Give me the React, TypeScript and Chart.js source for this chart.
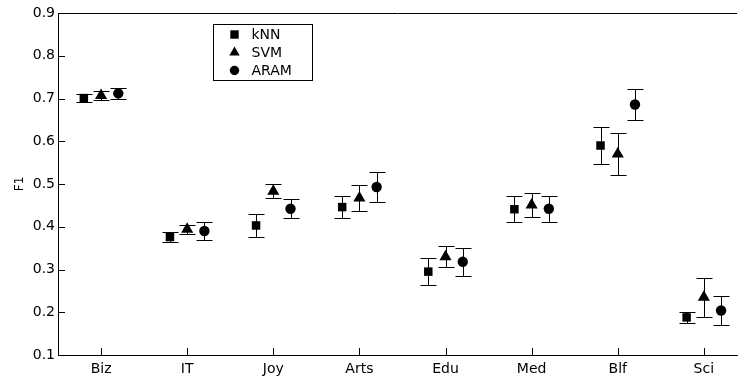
import React, { useEffect, useRef } from "react";
import { Chart, registerables } from "chart.js";

Chart.register(...registerables);

const categories = ["Biz", "IT", "Joy", "Arts", "Edu", "Med", "Blf", "Sci"];
const knnMean = [0.701, 0.376, 0.403, 0.446, 0.295, 0.441, 0.59, 0.188];
const knnErr = [0.009, 0.011, 0.027, 0.026, 0.031, 0.031, 0.043, 0.013];
const svmMean = [0.707, 0.394, 0.483, 0.467, 0.33, 0.451, 0.57, 0.235];
const svmErr = [0.01, 0.011, 0.016, 0.03, 0.024, 0.029, 0.05, 0.045];
const aramMean = [0.712, 0.39, 0.442, 0.493, 0.318, 0.442, 0.686, 0.204];
const aramErr = [0.012, 0.022, 0.022, 0.036, 0.033, 0.03, 0.037, 0.033];
const seriesNames = ["kNN", "SVM", "ARAM"];
const yTicks = [0.1, 0.2, 0.3, 0.4, 0.5, 0.6, 0.7, 0.8, 0.9];

const FONT = "'DejaVu Sans', 'Liberation Sans', Arial, sans-serif";

function drawMarker(ctx: CanvasRenderingContext2D, style: string, x: number, y: number, s: number) {
  ctx.beginPath();
  if (style === "rect") {
    ctx.rect(x - s * 0.42, y - s * 0.42, s * 0.84, s * 0.84);
  } else if (style === "triangle") {
    const r = s * 0.6;
    ctx.moveTo(x, y - r);
    ctx.lineTo(x + r * 0.866, y + r * 0.5);
    ctx.lineTo(x - r * 0.866, y + r * 0.5);
    ctx.closePath();
  } else {
    ctx.arc(x, y, s * 0.47, 0, Math.PI * 2);
  }
  ctx.fill();
}

export default function App() {
  const ref = useRef<HTMLCanvasElement | null>(null);

  useEffect(() => {
    document.body.style.margin = "0";
    const canvas = ref.current;
    if (!canvas) return;
    const errSeries = [knnErr, svmErr, aramErr];
    const offsets = [-0.2, 0, 0.2];
    const styles = ["rect", "triangle", "circle"];
    const radii = [6, 7, 5.2];
    const means = [knnMean, svmMean, aramMean];

    const datasets = means.map((m, di) => ({
      label: seriesNames[di],
      data: m.map((v, i) => ({ x: i + offsets[di], y: v })),
      pointStyle: styles[di],
      pointRadius: radii[di],
      pointBackgroundColor: "#000",
      pointBorderColor: "#000",
      pointBorderWidth: 0,
      showLine: false,
    }));

    const errorBars = {
      id: "errorBars",
      beforeDatasetsDraw(chart: any) {
        const { ctx, scales } = chart;
        const x = scales.x, y = scales.y;
        ctx.save();
        ctx.strokeStyle = "#000";
        ctx.lineWidth = 1;
        chart.data.datasets.forEach((ds: any, di: number) => {
          const errs = errSeries[di];
          ds.data.forEach((p: any, i: number) => {
            const px = Math.round(x.getPixelForValue(p.x)) + 0.5;
            const t = Math.round(y.getPixelForValue(p.y + errs[i])) + 0.5;
            const b = Math.round(y.getPixelForValue(p.y - errs[i])) + 0.5;
            ctx.beginPath();
            ctx.moveTo(px, t);
            ctx.lineTo(px, b);
            ctx.moveTo(px - 8, t);
            ctx.lineTo(px + 8, t);
            ctx.moveTo(px - 8, b);
            ctx.lineTo(px + 8, b);
            ctx.stroke();
          });
        });
        ctx.restore();
      },
    };

    const frame = {
      id: "frame",
      afterDraw(chart: any) {
        const { ctx, chartArea, scales } = chart;
        const x = scales.x, y = scales.y;
        ctx.save();
        ctx.strokeStyle = "#000";
        ctx.lineWidth = 1;
        ctx.beginPath();
        const top = Math.round(chartArea.top) + 0.5;
        ctx.moveTo(chartArea.left, top);
        ctx.lineTo(chartArea.right, top);
        yTicks.forEach((v) => {
          const py = Math.round(y.getPixelForValue(v)) + 0.5;
          ctx.moveTo(chartArea.left, py);
          ctx.lineTo(chartArea.left + 7, py);
        });
        categories.forEach((_, i) => {
          const px = Math.round(x.getPixelForValue(i)) + 0.5;
          ctx.moveTo(px, chartArea.bottom);
          ctx.lineTo(px, chartArea.bottom - 7);
        });
        ctx.stroke();

        const lx = Math.round(chartArea.left + 155) + 0.5;
        const ly = Math.round(chartArea.top + 11) + 0.5;
        ctx.strokeRect(lx, ly, 99, 56);
        ctx.fillStyle = "#000";
        ctx.font = `14px ${FONT}`;
        ctx.textBaseline = "middle";
        ctx.textAlign = "left";
        seriesNames.forEach((name, i) => {
          const cy = ly + 10 + i * 18;
          drawMarker(ctx, styles[i], lx + 21, cy, 10);
          ctx.fillText(name, lx + 38, cy + 1);
        });
        ctx.restore();
      },
    };

    const chart = new Chart(canvas, {
      type: "scatter",
      data: { datasets },
      plugins: [errorBars, frame],
      options: {
        animation: false,
        responsive: true,
        maintainAspectRatio: false,
        layout: { padding: { top: 13, right: 0, bottom: 0, left: 0 } },
        plugins: { legend: { display: false }, tooltip: { enabled: false } },
        scales: {
          x: {
            type: "linear",
            min: -0.5,
            max: 7.385,
            afterBuildTicks: (scale: any) => {
              scale.ticks = categories.map((_, i) => ({ value: i }));
            },
            afterFit: (scale: any) => {
              scale.height = 21;
            },
            grid: { display: false, drawTicks: false },
            border: { display: true, color: "#000", width: 1 },
            ticks: {
              padding: 6,
              color: "#000",
              font: { family: FONT, size: 14 },
              maxRotation: 0,
              autoSkip: false,
              callback: (v: any) => categories[Math.round(Number(v))] ?? "",
            },
          },
          y: {
            min: 0.1,
            max: 0.9,
            afterBuildTicks: (scale: any) => {
              scale.ticks = yTicks.map((v) => ({ value: v }));
            },
            afterFit: (scale: any) => {
              scale.width = 58;
            },
            grid: { display: false, drawTicks: false },
            border: { display: true, color: "#000", width: 1 },
            title: {
              display: true,
              text: "F1",
              color: "#000",
              font: { family: FONT, size: 12 },
              padding: { top: 13, bottom: 0 },
            },
            ticks: {
              padding: 3,
              color: "#000",
              font: { family: FONT, size: 14 },
              callback: (v: any) => Number(v).toFixed(1),
            },
          },
        },
      },
    });
    return () => chart.destroy();
  }, []);

  return (
    <div style={{ width: 744, height: 376, position: "relative" }}>
      <canvas ref={ref} />
    </div>
  );
}
